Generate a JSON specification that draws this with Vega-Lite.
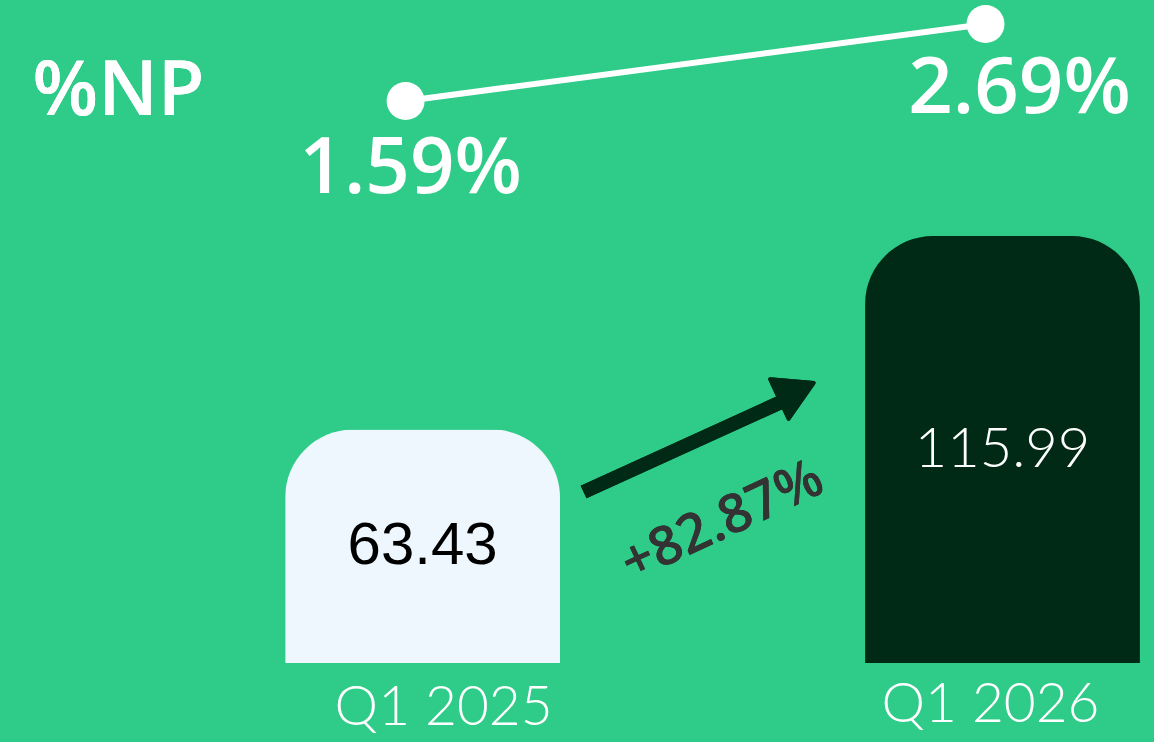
{
  "$schema": "https://vega.github.io/schema/vega-lite/v6.json",
  "width": 1154,
  "height": 742,
  "padding": 0,
  "autosize": {"type": "none"},
  "background": "#2ECC88",
  "config": {"view": {"stroke": null}, "axis": {"disable": true}},
  "data": {
    "values": [
      {"quarter": "Q1 2025", "value": 63.43, "valueLabel": "63.43", "np": 1.59, "npLabel": "1.59%"},
      {"quarter": "Q1 2026", "value": 115.99, "valueLabel": "115.99", "np": 2.69, "npLabel": "2.69%"}
    ]
  },
  "layer": [
    {
      "layer": [
        {
          "mark": {"type": "bar", "cornerRadiusTopLeft": 68, "cornerRadiusTopRight": 68},
          "encoding": {
            "x": {"field": "quarter", "type": "nominal", "scale": {"paddingInner": 0.526, "paddingOuter": 0.258, "align": 0.953}, "axis": null},
            "y": {"field": "value", "type": "quantitative", "stack": "zero", "scale": {"domain": [-21.46, 180.1], "nice": false, "zero": false}, "axis": null},
            "color": {"field": "quarter", "type": "nominal", "scale": {"domain": ["Q1 2025", "Q1 2026"], "range": ["#EDF7FD", "#002916"]}, "legend": null}
          }
        },
        {
          "transform": [{"filter": "datum.quarter === 'Q1 2025'"}],
          "mark": {"type": "text", "font": "Liberation Sans", "fontSize": 60, "color": "#000000", "baseline": "middle", "align": "center"},
          "encoding": {
            "x": {"field": "quarter", "type": "nominal", "axis": null},
            "y": {"field": "value", "type": "quantitative", "stack": "zero", "bandPosition": 0.5, "axis": null},
            "text": {"field": "valueLabel"}
          }
        },
        {
          "transform": [{"filter": "datum.quarter === 'Q1 2026'"}],
          "mark": {"type": "text", "font": "Lato", "fontWeight": 300, "fontSize": 56, "color": "#FFFFFF", "baseline": "middle", "align": "center"},
          "encoding": {
            "x": {"field": "quarter", "type": "nominal", "axis": null},
            "y": {"field": "value", "type": "quantitative", "stack": "zero", "bandPosition": 0.5, "axis": null},
            "text": {"field": "valueLabel"}
          }
        },
        {
          "transform": [{"filter": "datum.quarter === 'Q1 2025'"}],
          "mark": {"type": "text", "font": "Lato", "fontWeight": 300, "fontSize": 55, "color": "#FFFFFF", "baseline": "middle", "align": "center", "dx": 21},
          "encoding": {
            "x": {"field": "quarter", "type": "nominal", "axis": null},
            "y": {"datum": -12.2, "type": "quantitative"},
            "text": {"field": "quarter"}
          }
        },
        {
          "transform": [{"filter": "datum.quarter === 'Q1 2026'"}],
          "mark": {"type": "text", "font": "Lato", "fontWeight": 300, "fontSize": 55, "color": "#FFFFFF", "baseline": "middle", "align": "center", "dx": -12},
          "encoding": {
            "x": {"field": "quarter", "type": "nominal", "axis": null},
            "y": {"datum": -11.4, "type": "quantitative"},
            "text": {"field": "quarter"}
          }
        },
        {
          "mark": {"type": "rule", "color": "#002916", "strokeWidth": 14, "xOffset": 161, "x2Offset": -210},
          "encoding": {
            "x": {"datum": "Q1 2025", "type": "nominal"},
            "x2": {"datum": "Q1 2026"},
            "y": {"datum": 46.45, "type": "quantitative"},
            "y2": {"datum": 72.3}
          }
        },
        {
          "mark": {"type": "point", "shape": "triangle-right", "filled": true, "opacity": 1, "color": "#002916", "size": 1900, "angle": -25, "xOffset": -206, "strokeJoin": "round", "stroke": "#002916", "strokeWidth": 4},
          "encoding": {
            "x": {"datum": "Q1 2026", "type": "nominal"},
            "y": {"datum": 73.9, "type": "quantitative"}
          }
        },
        {
          "mark": {"type": "text", "text": "+82.87%", "font": "Open Sans", "fontWeight": 600, "fontSize": 54, "color": "#333333", "angle": -25, "align": "center", "baseline": "middle", "xOffset": 300},
          "encoding": {
            "x": {"datum": "Q1 2025", "type": "nominal"},
            "y": {"datum": 38.3, "type": "quantitative"}
          }
        },
        {
          "mark": {"type": "text", "text": "%NP", "font": "Open Sans", "fontWeight": 600, "fontSize": 76, "color": "#FFFFFF", "align": "left", "baseline": "middle", "xOffset": -390},
          "encoding": {
            "x": {"datum": "Q1 2025", "type": "nominal"},
            "y": {"datum": 155.1, "type": "quantitative"}
          }
        }
      ]
    },
    {
      "layer": [
        {
          "mark": {"type": "line", "color": "#FFFFFF", "strokeWidth": 6, "xOffset": -17},
          "encoding": {
            "x": {"field": "quarter", "type": "nominal", "axis": null},
            "y": {"field": "np", "type": "quantitative", "scale": {"domain": [-7.567, 3.033], "nice": false, "zero": false}, "axis": null}
          }
        },
        {
          "mark": {"type": "point", "shape": "circle", "filled": true, "opacity": 1, "color": "#FFFFFF", "size": 1444, "xOffset": -17},
          "encoding": {
            "x": {"field": "quarter", "type": "nominal", "axis": null},
            "y": {"field": "np", "type": "quantitative", "axis": null}
          }
        },
        {
          "transform": [{"filter": "datum.quarter === 'Q1 2025'"}],
          "mark": {"type": "text", "font": "Open Sans", "fontWeight": 600, "fontSize": 78, "color": "#FFFFFF", "align": "center", "baseline": "middle", "xOffset": -12, "dy": 69},
          "encoding": {
            "x": {"field": "quarter", "type": "nominal", "axis": null},
            "y": {"field": "np", "type": "quantitative", "axis": null},
            "text": {"field": "npLabel"}
          }
        },
        {
          "transform": [{"filter": "datum.quarter === 'Q1 2026'"}],
          "mark": {"type": "text", "font": "Open Sans", "fontWeight": 600, "fontSize": 78, "color": "#FFFFFF", "align": "center", "baseline": "middle", "xOffset": 17, "dy": 66},
          "encoding": {
            "x": {"field": "quarter", "type": "nominal", "axis": null},
            "y": {"field": "np", "type": "quantitative", "axis": null},
            "text": {"field": "npLabel"}
          }
        }
      ]
    }
  ],
  "resolve": {"scale": {"y": "independent"}}
}
